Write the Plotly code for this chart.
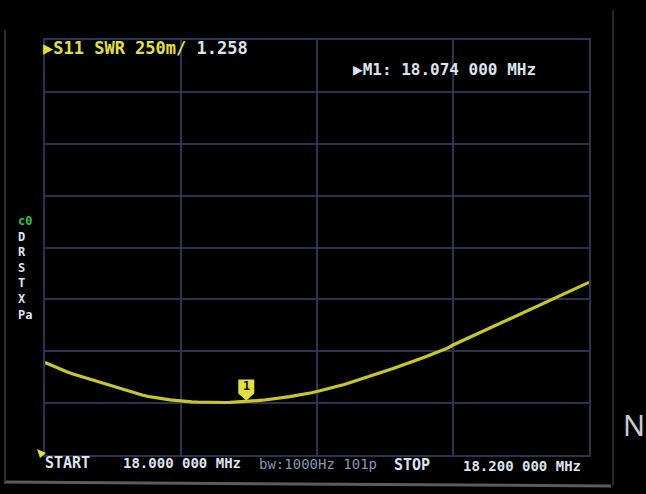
import numpy as np
import plotly.graph_objects as go

# sweep settings, as shown on screen
START_MHZ = 18.0
STOP_MHZ = 18.2
POINTS = 101

# S11 SWR readings, one per sweep point
swr = [
    1.446, 1.434, 1.422, 1.411, 1.401, 1.392, 1.384, 1.375, 1.366, 1.358,
    1.349, 1.340, 1.332, 1.324, 1.316, 1.308, 1.301, 1.294, 1.288, 1.282,
    1.277, 1.273, 1.269, 1.266, 1.263, 1.260, 1.258, 1.256, 1.255, 1.254,
    1.253, 1.253, 1.253, 1.253, 1.254, 1.255, 1.256, 1.258, 1.260, 1.262,
    1.264, 1.267, 1.270, 1.273, 1.277, 1.281, 1.286, 1.290, 1.295, 1.300,
    1.306, 1.312, 1.318, 1.325, 1.332, 1.340, 1.348, 1.356, 1.365, 1.373,
    1.382, 1.390, 1.399, 1.408, 1.417, 1.426, 1.435, 1.444, 1.454, 1.464,
    1.474, 1.484, 1.494, 1.505, 1.515, 1.530, 1.542, 1.553, 1.565, 1.577,
    1.589, 1.601, 1.614, 1.627, 1.640, 1.652, 1.664, 1.676, 1.688, 1.700,
    1.712, 1.724, 1.736, 1.748, 1.760, 1.772, 1.784, 1.796, 1.808, 1.820,
    1.832,
]

MARKER_IDX = 37
SCALE_PER_DIV = 0.25
REF_SWR = 1.0
DIVS_Y = 8

side_labels = ['D', 'R', 'S', 'T', 'X', 'Pa']

YELLOW = '#e2e040'
TRACE = '#c9c52a'
GRID = '#2a3452'
WHITE = '#dde3ee'
DIM = '#8592b8'
MONO = 'DejaVu Sans Mono'

W, H = 646, 494
L, R, T, B = 45, 589, 40, 455


def paper(x, y):
    return (x - L) / (R - L), (B - y) / (B - T)


freqs = np.linspace(START_MHZ, STOP_MHZ, POINTS)
mk_f = freqs[MARKER_IDX]
mk_v = swr[MARKER_IDX]

fig = go.Figure()
fig.add_trace(go.Scatter(x=freqs, y=swr, mode='lines',
                         line=dict(color=TRACE, width=3.2), hoverinfo='skip'))

# marker shield at M1
fig.add_shape(type='path', xref='x', yref='y', xsizemode='pixel', ysizemode='pixel',
              xanchor=mk_f, yanchor=mk_v,
              path='M0,1 L-8,8 L-8,22 L8,22 L8,8 Z',
              fillcolor=YELLOW, line=dict(color=YELLOW, width=0))

# reference level pointer, bottom left
fig.add_shape(type='path', xref='paper', yref='paper', xsizemode='pixel', ysizemode='pixel',
              xanchor=paper(37, 449)[0], yanchor=paper(37, 449)[1],
              path='M0,0 L9,-4 L3,-9 Z',
              fillcolor=YELLOW, line=dict(color=YELLOW, width=0))

ann = []


def text(x, y, s, color=WHITE, size=14, xanchor='left', family=MONO, weight='bold'):
    px, py = paper(x, y)
    ann.append(dict(x=px, y=py, xref='paper', yref='paper', text=s, showarrow=False,
                    xanchor=xanchor, yanchor='middle', align='left',
                    font=dict(family=family, size=size, color=color, weight=weight)))


text(41, 48, f"<span style='color:{YELLOW}'>▶S11 SWR {int(SCALE_PER_DIV * 1000)}m/</span> {mk_v:.3f}",
     size=17)
text(351, 69, f"▶M1: {mk_f:.3f} 000 MHz", size=16)
text(43, 463, 'START', size=15)
text(121, 463, f"{START_MHZ:.3f} 000 MHz", size=14)
text(257, 464, 'bw:1000Hz 101p', color=DIM, size=14, weight='normal')
text(392, 465, 'STOP', size=15)
text(461, 466, f"{STOP_MHZ:.3f} 000 MHz", size=14)
text(16, 268, "<span style='color:#34c040'>c0</span><br>" + '<br>'.join(side_labels), size=12)
text(647, 424, 'N', color='#c8ccd4', size=29, xanchor='right', family='Noto Sans', weight='normal')

ann.append(dict(x=mk_f, y=mk_v, xref='x', yref='y', text='<b>1</b>', showarrow=False,
                yanchor='middle', yshift=15,
                font=dict(family=MONO, size=12, color='#101000')))

# screen bezel edges
for x0, y0, x1, y1, c, w in [(4, 482, 611, 486, '#5c5c5c', 3),
                              (5, 30, 5, 482, '#2e2e2e', 2),
                              (613, 10, 613, 486, '#262626', 2)]:
    a, b = paper(x0, y0)
    c1, d = paper(x1, y1)
    fig.add_shape(type='line', xref='paper', yref='paper', x0=a, y0=b, x1=c1, y1=d,
                  line=dict(color=c, width=w))

fig.update_layout(
    width=W, height=H,
    margin=dict(l=L, r=W - R, t=T, b=H - B),
    paper_bgcolor='#000000', plot_bgcolor='#000000',
    showlegend=False, annotations=ann,
)
fig.update_xaxes(range=[START_MHZ, STOP_MHZ], dtick=(STOP_MHZ - START_MHZ) / 4, tick0=START_MHZ,
                 showgrid=True, gridcolor=GRID, gridwidth=1.5, showline=True, mirror=True,
                 linecolor=GRID, linewidth=1.5, showticklabels=False, ticks='', zeroline=False)
fig.update_yaxes(range=[REF_SWR, REF_SWR + SCALE_PER_DIV * DIVS_Y], dtick=SCALE_PER_DIV, tick0=REF_SWR,
                 showgrid=True, gridcolor=GRID, gridwidth=1.5, showline=True, mirror=True,
                 linecolor=GRID, linewidth=1.5, showticklabels=False, ticks='', zeroline=False)

fig.write_html("out.html", config={'displayModeBar': False},
               post_script="document.body.style.margin='0';document.body.style.background='#000';")
